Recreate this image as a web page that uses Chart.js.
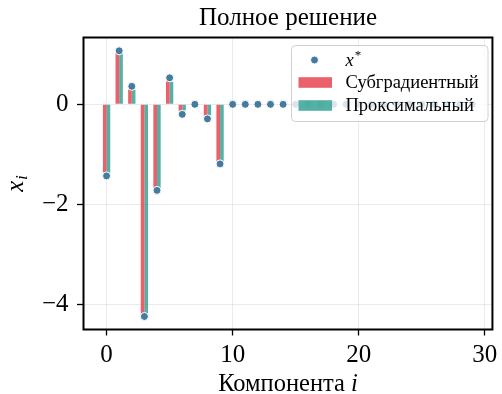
<!DOCTYPE html>
<html>
<head>
<meta charset="utf-8">
<script src="https://cdn.jsdelivr.net/npm/chart.js@4.4.1/dist/chart.umd.min.js"></script>
<style>
  html, body { margin: 0; padding: 0; background: #ffffff; }
  #wrap { width: 502px; height: 394px; }
</style>
</head>
<body>
<div id="wrap"><canvas id="chart" width="502" height="394"></canvas></div>
<script>
// Component indices of the solution vector
const componentIdx = [0, 1, 2, 3, 4, 5, 6, 7, 8, 9,
                      10, 11, 12, 13, 14, 15, 16, 17, 18, 19,
                      20, 21, 22, 23, 24, 25, 26, 27, 28, 29];

// True solution x*
const xStar = [-1.43, 1.07, 0.36, -4.24, -1.72, 0.53, -0.20, 0.00, -0.29, -1.19,
               0, 0, 0, 0, 0, 0, 0, 0, 0, 0,
               0, 0, 0, 0, 0, 0, 0, 0, 0, 0];

// Solution found by the subgradient method
const subgradient = [-1.36, 1.03, 0.30, -4.19, -1.67, 0.46, -0.13, 0.00, -0.23, -1.15,
                     0, 0, 0, 0, 0, 0, 0, 0, 0, 0,
                     0, 0, 0, 0, 0, 0, 0, 0, 0, 0];

// Solution found by the proximal method
const proximal = [-1.37, 1.02, 0.29, -4.18, -1.68, 0.45, -0.12, 0.00, -0.22, -1.14,
                  0, 0, 0, 0, 0, 0, 0, 0, 0, 0,
                  0, 0, 0, 0, 0, 0, 0, 0, 0, 0];

const seriesNames = ['x*', 'Субградиентный', 'Проксимальный'];
const xTicks = [0, 10, 20, 30];
const yTicks = [-4, -2, 0];
const chartTitle = 'Полное решение';
const xTitle = ['Компонента ', 'i'];
const yTitle = ['x', 'i'];

const SERIF = '"Liberation Serif", "DejaVu Serif", serif';
const COL_STAR = '#457b9d';
const COL_SUB = 'rgba(230, 57, 70, 0.8)';
const COL_PROX = 'rgba(42, 157, 143, 0.8)';

const toPoints = (vals) => componentIdx.map((c, i) => ({ x: c, y: vals[i] }));
const fmtTick = (v) => String(v).replace('-', '\u2212');

// Black frame around the plotting area
const framePlugin = {
  id: 'frame',
  afterDatasetsDraw(chart) {
    const { ctx, chartArea: a } = chart;
    ctx.save();
    ctx.strokeStyle = '#000';
    ctx.lineWidth = 2;
    ctx.strokeRect(a.left, a.top, a.right - a.left, a.bottom - a.top);
    ctx.restore();
  }
};

// Legend box in the upper right corner
const legendPlugin = {
  id: 'boxLegend',
  afterDraw(chart) {
    const { ctx } = chart;
    const ds = chart.data.datasets;
    const bx = 291.5, by = 45.5, bw = 196.5, bh = 76;
    ctx.save();
    ctx.beginPath();
    ctx.roundRect(bx, by, bw, bh, 4);
    ctx.fillStyle = 'rgba(255,255,255,0.8)';
    ctx.fill();
    ctx.strokeStyle = '#d0d0d0';
    ctx.lineWidth = 1;
    ctx.stroke();

    const rowsY = [60, 82.5, 105.5];
    const textX = 345.5;
    ctx.textBaseline = 'middle';
    ctx.fillStyle = '#000';
    ds.forEach((d, k) => {
      const y = rowsY[k];
      if (d.type === 'scatter') {
        ctx.beginPath();
        ctx.arc(314.5, y, 4, 0, Math.PI * 2);
        ctx.fillStyle = d.backgroundColor;
        ctx.fill();
        ctx.strokeStyle = '#fff';
        ctx.lineWidth = 1;
        ctx.stroke();
        // italic symbol with superscript star
        const base = d.label.slice(0, 1), sup = d.label.slice(1);
        ctx.fillStyle = '#000';
        ctx.font = `italic 18.5px ${SERIF}`;
        ctx.fillText(base, textX, y + 1);
        const wb = ctx.measureText(base).width;
        ctx.font = `13px ${SERIF}`;
        ctx.fillText(sup, textX + wb + 1, y - 4);
      } else {
        ctx.fillStyle = d.backgroundColor;
        ctx.fillRect(298.5, y - 5.3, 33.5, 10.6);
        ctx.fillStyle = '#000';
        ctx.font = `18.5px ${SERIF}`;
        ctx.fillText(d.label, textX, y + 1);
      }
    });
    ctx.restore();
  }
};

// Title and axis titles with italic symbols
const axisTextPlugin = {
  id: 'axisText',
  afterDraw(chart) {
    const { ctx, chartArea: a } = chart;
    const cx = (a.left + a.right) / 2;
    ctx.save();
    ctx.fillStyle = '#000';
    ctx.textBaseline = 'alphabetic';

    ctx.textAlign = 'center';
    ctx.font = `25px ${SERIF}`;
    ctx.fillText(chartTitle, cx, 25);
    ctx.textAlign = 'left';

    const fN = `24.5px ${SERIF}`, fI = `italic 24.5px ${SERIF}`;
    ctx.font = fN; const w1 = ctx.measureText(xTitle[0]).width;
    ctx.font = fI; const w2 = ctx.measureText(xTitle[1]).width;
    const x0 = cx - (w1 + w2) / 2;
    ctx.font = fN; ctx.fillText(xTitle[0], x0, 391);
    ctx.font = fI; ctx.fillText(xTitle[1], x0 + w1, 391);

    // rotated y title: x with subscript i
    const fSub = `italic 17px ${SERIF}`;
    ctx.font = fI; const wx = ctx.measureText(yTitle[0]).width;
    ctx.font = fSub; const wi = ctx.measureText(yTitle[1]).width;
    ctx.translate(23, (a.top + a.bottom) / 2);
    ctx.rotate(-Math.PI / 2);
    const s = -(wx + wi + 1) / 2;
    ctx.font = fI; ctx.fillText(yTitle[0], s, 0);
    ctx.font = fSub; ctx.fillText(yTitle[1], s + wx + 1, 4);
    ctx.restore();
  }
};

new Chart(document.getElementById('chart'), {
  type: 'bar',
  data: {
    datasets: [
      {
        type: 'scatter', label: seriesNames[0], data: toPoints(xStar),
        backgroundColor: COL_STAR, borderColor: '#ffffff', borderWidth: 1,
        pointRadius: 4, order: 0
      },
      {
        type: 'bar', label: seriesNames[1], data: toPoints(subgradient),
        backgroundColor: COL_SUB, borderWidth: 0,
        categoryPercentage: 0.58, barPercentage: 1, order: 1
      },
      {
        type: 'bar', label: seriesNames[2], data: toPoints(proximal),
        backgroundColor: COL_PROX, borderWidth: 0,
        categoryPercentage: 0.58, barPercentage: 1, order: 1
      }
    ]
  },
  options: {
    responsive: false,
    animation: false,
    devicePixelRatio: 1,
    layout: { padding: { left: 0, right: 7, top: 37.5, bottom: 0 } },
    plugins: {
      legend: { display: false },
      tooltip: { enabled: false },
      title: { display: false }
    },
    scales: {
      x: {
        type: 'linear', min: -1.83, max: 30.6, offset: false,
        afterBuildTicks: (s) => { s.ticks = xTicks.map(v => ({ value: v })); },
        afterFit: (s) => { s.height = 64.5; },
        grid: { offset: false, color: 'rgba(0,0,0,0.08)', lineWidth: 1,
                tickColor: '#000', tickWidth: 1.3, tickLength: 6, drawTicks: true },
        border: { display: false },
        ticks: { color: '#000', font: { family: SERIF, size: 25 }, padding: 4.5,
                 maxRotation: 0, autoSkip: false, callback: fmtTick }
      },
      y: {
        type: 'linear', min: -4.5, max: 1.336,
        afterBuildTicks: (s) => { s.ticks = yTicks.map(v => ({ value: v })); },
        afterFit: (s) => { s.width = 83.5; },
        grid: { color: 'rgba(0,0,0,0.08)', lineWidth: 1,
                tickColor: '#000', tickWidth: 1.3, tickLength: 6.5, drawTicks: true },
        border: { display: false },
        ticks: { color: '#000', font: { family: SERIF, size: 25 }, padding: 8.5,
                 autoSkip: false, callback: fmtTick }
      }
    }
  },
  plugins: [framePlugin, legendPlugin, axisTextPlugin]
});
</script>
</body>
</html>
